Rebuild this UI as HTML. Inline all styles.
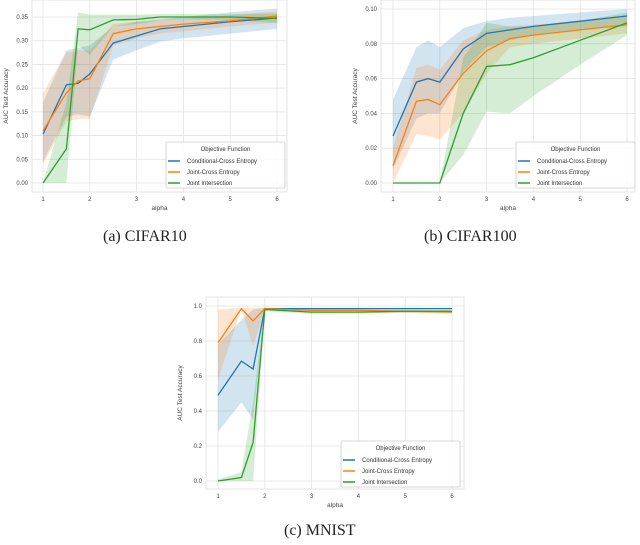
<!DOCTYPE html>
<html><head><meta charset="utf-8"><style>
body{margin:0;background:#fff;width:640px;height:545px;overflow:hidden;font-family:"Liberation Sans",sans-serif}
svg{position:absolute;left:0;top:0}
.cap{position:absolute;font-family:"Liberation Serif",serif;font-size:16px;color:#222}
</style></head><body>
<svg id="chart" width="640" height="545"></svg>
<div class="cap" style="left:103px;top:228px">(a) CIFAR10</div>
<div class="cap" style="left:424px;top:228px">(b) CIFAR100</div>
<div class="cap" style="left:284px;top:522px">(c) MNIST</div>
<script>
const seriesNames=["Conditional-Cross Entropy","Joint-Cross Entropy","Joint Intersection"];
const colors=["#1f77b4","#ff7f0e","#2ca02c"];
const alphaA=[1,1.5,1.75,2,2.5,3,3.5,4,5,6];
const aBlue=[0.103,0.207,0.21,0.23,0.295,0.31,0.325,0.33,0.34,0.348];
const aOrange=[0.11,0.19,0.215,0.22,0.315,0.325,0.33,0.335,0.342,0.352];
const aGreen=[0,0.072,0.325,0.323,0.344,0.345,0.35,0.35,0.35,0.347];
const aBlueLo=[0.045,0.14,0.145,0.14,0.26,0.28,0.298,0.305,0.315,0.325];
const aBlueHi=[0.17,0.28,0.285,0.29,0.33,0.34,0.345,0.35,0.36,0.368];
const aOrangeLo=[0.04,0.13,0.135,0.135,0.29,0.305,0.315,0.32,0.33,0.338];
const aOrangeHi=[0.19,0.275,0.28,0.28,0.335,0.34,0.343,0.346,0.354,0.362];
const aGreenLo=[0,0,0.29,0.27,0.33,0.335,0.343,0.345,0.344,0.337];
const aGreenHi=[0,0.17,0.36,0.355,0.355,0.355,0.356,0.356,0.356,0.357];
const alphaB=[1,1.5,1.75,2,2.5,3,3.5,4,5,6];
const bBlue=[0.027,0.058,0.06,0.058,0.077,0.086,0.088,0.09,0.093,0.096];
const bOrange=[0.010,0.047,0.048,0.045,0.063,0.076,0.083,0.085,0.088,0.091];
const bGreen=[0,0,0,0,0.040,0.067,0.068,0.072,0.082,0.092];
const bBlueLo=[0.008,0.037,0.04,0.04,0.064,0.078,0.082,0.085,0.088,0.09];
const bBlueHi=[0.048,0.078,0.082,0.078,0.089,0.093,0.095,0.096,0.098,0.1];
const bOrangeLo=[0,0.028,0.027,0.025,0.04,0.063,0.078,0.08,0.083,0.086];
const bOrangeHi=[0.02,0.066,0.068,0.065,0.082,0.088,0.09,0.091,0.093,0.096];
const bGreenLo=[0,0,0,0,0.016,0.041,0.04,0.05,0.068,0.085];
const bGreenHi=[0,0,0,0,0.072,0.092,0.09,0.09,0.093,0.098];
const alphaC=[1,1.5,1.75,2,3,4,5,6];
const cBlue=[0.49,0.685,0.64,0.985,0.985,0.985,0.985,0.985];
const cOrange=[0.79,0.985,0.915,0.985,0.975,0.975,0.97,0.965];
const cGreen=[0,0.02,0.22,0.98,0.965,0.965,0.97,0.97];
const cBlueLo=[0.28,0.45,0.35,0.98,0.98,0.98,0.98,0.98];
const cBlueHi=[0.78,0.92,0.98,0.99,0.99,0.99,0.99,0.99];
const cOrangeLo=[0.58,0.985,0.77,0.98,0.965,0.965,0.96,0.958];
const cOrangeHi=[0.98,0.99,0.99,0.99,0.985,0.985,0.98,0.975];
const cGreenLo=[0,0,0,0.97,0.955,0.958,0.962,0.962];
const cGreenHi=[0.01,0.05,0.45,0.99,0.975,0.975,0.978,0.978];
const xTicks=[1,2,3,4,5,6];
const yTicksA=[0,0.05,0.1,0.15,0.2,0.25,0.3,0.35];
const yTicksB=[0,0.02,0.04,0.06,0.08,0.1];
const yTicksC=[0,0.2,0.4,0.6,0.8,1.0];

const NS="http://www.w3.org/2000/svg";
const svg=document.getElementById('chart');
function mk(tag,attrs,parent){const e=document.createElementNS(NS,tag);for(const k in attrs)e.setAttribute(k,attrs[k]);(parent||svg).appendChild(e);return e;}

function drawChart(id,box,xs,ymax,yTicks,dec,means,los,his,legend){
  const g=mk('g',{});
  
  
  const sx=v=>box.x1+(v-1)/5*(box.x6-box.x1);
  const sy=v=>box.y0+v/ymax*(box.yT-box.y0);
  mk('rect',{x:box.l,y:box.t,width:box.r-box.l,height:box.b-box.t,fill:'#fff',stroke:'#ddd','stroke-width':0.8},g);
  yTicks.forEach(t=>{
    const gl=mk('line',{x1:box.l,x2:box.r,y1:sy(t),y2:sy(t),stroke:'#e2e2e2','stroke-width':0.8},g);
    
    
    const tl=mk('text',{x:box.l-4,y:sy(t)+2,'font-size':6,'text-anchor':'end',fill:'#444'},g);
    tl.textContent=t.toFixed(dec);
    
    
  });
  xTicks.forEach(t=>{
    mk('line',{x1:sx(t),x2:sx(t),y1:box.t,y2:box.b,stroke:'#e2e2e2','stroke-width':0.8},g);
    const tl=mk('text',{x:sx(t),y:box.b+9,'font-size':6,'text-anchor':'middle',fill:'#444'},g);
    tl.textContent=t;
    
    
  });
  const xl=mk('text',{x:(box.l+box.r)/2,y:box.b+18,'font-size':6.5,'text-anchor':'middle',fill:'#444'},g);
  xl.textContent='alpha';
  
  
  const yx=box.l-24,yy=(box.t+box.b)/2;
  const yl=mk('text',{x:yx,y:yy,'font-size':6.5,'text-anchor':'middle',fill:'#444',transform:`rotate(-90 ${yx} ${yy})`},g);
  yl.textContent='AUC Test Accuracy';
  
  
  for(let s=0;s<3;s++){
    let d='M'+xs.map((x,i)=>sx(x)+','+sy(his[s][i])).join('L')+'L'+xs.map((x,i)=>sx(x)+','+sy(los[s][i])).reverse().join('L')+'Z';
    const band=mk('path',{d,fill:colors[s],'fill-opacity':0.2,stroke:'none'},g);
    
    
  }
  for(let s=0;s<3;s++){
    const ln=mk('polyline',{points:xs.map((x,i)=>sx(x)+','+sy(means[s][i])).join(' '),fill:'none',stroke:colors[s],'stroke-width':1.3},g);
    
    
  }
  const L=legend;
  const lg=mk('g',{},g);
  
  
  mk('rect',{x:L.x,y:L.y,width:L.w,height:46,fill:'#fff','fill-opacity':0.85,stroke:'#ccc','stroke-width':0.8,rx:1.5},lg);
  const lt=mk('text',{x:L.x+L.w/2,y:L.y+9,'font-size':6,'text-anchor':'middle',fill:'#333'},lg);
  lt.textContent='Objective Function';
  
  
  seriesNames.forEach((n,i)=>{
    const yy=L.y+19+i*11;
    mk('line',{x1:L.x+2,x2:L.x+14,y1:yy,y2:yy,stroke:colors[i],'stroke-width':1.5},lg);
    const t=mk('text',{x:L.x+21,y:yy+2,'font-size':6,fill:'#333'},lg);
    t.textContent=n;
    
    
  });
}
drawChart('chart-cifar10',{l:32,r:287,t:0,b:192,x1:43,x6:277,y0:183,yT:17},alphaA,0.35,yTicksA,2,
  [aBlue,aOrange,aGreen],[aBlueLo,aOrangeLo,aGreenLo],[aBlueHi,aOrangeHi,aGreenHi],{x:166,y:142,w:119});
drawChart('chart-cifar100',{l:381,r:635,t:0,b:192,x1:393,x6:627,y0:183,yT:9},alphaB,0.10,yTicksB,2,
  [bBlue,bOrange,bGreen],[bBlueLo,bOrangeLo,bGreenLo],[bBlueHi,bOrangeHi,bGreenHi],{x:516,y:142,w:119});
drawChart('chart-mnist',{l:206,r:464,t:297,b:489,x1:218,x6:452,y0:481,yT:306},alphaC,1.0,yTicksC,1,
  [cBlue,cOrange,cGreen],[cBlueLo,cOrangeLo,cGreenLo],[cBlueHi,cOrangeHi,cGreenHi],{x:341,y:441,w:119});
</script>
</body></html>
